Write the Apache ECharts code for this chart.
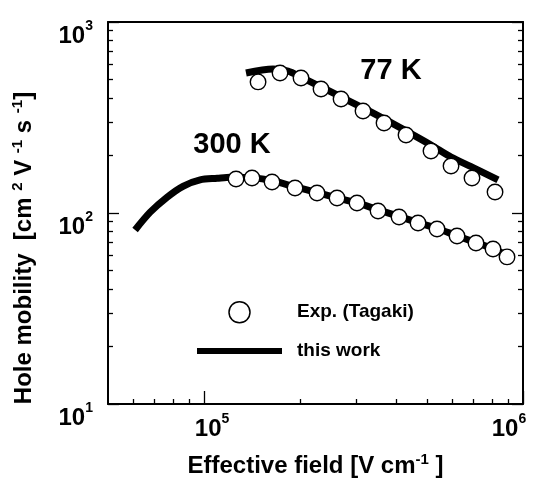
<!DOCTYPE html>
<html><head><meta charset="utf-8">
<script src="https://cdn.jsdelivr.net/npm/echarts@6/dist/echarts.min.js"></script>
<style>html,body{margin:0;padding:0;background:#fff}#c{width:537px;height:480px}</style>
</head><body><div id="c"></div>
<script>
const FONT = '"Liberation Sans", Arial, Helvetica, sans-serif';

// Experimental data (Takagi), 300 K
const exp300X = [1.26e5, 1.414e5, 1.634e5, 1.929e5, 2.261e5, 2.612e5, 3.017e5, 3.512e5, 4.087e5, 4.687e5, 5.376e5, 6.211e5, 7.123e5, 8.054e5, 8.911e5];
const exp300Y = [150.6, 152.4, 145.3, 135.2, 127.3, 119.9, 112.8, 102.4, 95.3, 88.6, 82.4, 75.8, 69.7, 64.8, 58.9];
// This work, 300 K
const fit300X = [6.08e4, 6.78e4, 7.66e4, 8.59e4, 9.72e4, 1.10e5, 1.21e5, 1.41e5, 1.63e5, 1.93e5, 2.26e5, 2.61e5, 3.02e5, 3.51e5, 4.09e5, 4.69e5, 5.38e5, 6.21e5, 7.12e5, 8.05e5, 8.9e5];
const fit300Y = [81.5, 101, 121, 138, 149, 152, 154, 153, 148, 137, 128, 120, 113, 104, 96, 89, 83, 76, 70, 65, 60];
// Experimental data (Takagi), 77 K
const exp77X = [1.477e5, 1.731e5, 2.014e5, 2.327e5, 2.689e5, 3.151e5, 3.667e5, 4.298e5, 5.147e5, 5.948e5, 6.920e5, 8.172e5];
const exp77Y = [485.6, 540.6, 509.2, 445.8, 395.0, 342.2, 296.1, 256.0, 211.2, 176.3, 152.4, 128.9];
// This work, 77 K
const fit77X = [1.354e5, 1.646e5, 1.834e5, 2.014e5, 2.327e5, 2.689e5, 3.151e5, 3.667e5, 4.298e5, 5.147e5, 5.948e5, 6.920e5, 8.35e5];
const fit77Y = [541, 567, 553, 515, 457, 405, 355, 311, 269, 227, 196, 174, 149];

// Axes
const xMin = 5e4, xMax = 1e6, yMin = 10, yMax = 1000;
const xMajorTicks = [1e5, 1e6];
const xMajorExp = ['5', '6'];
const xMinorTicks = [6e4, 7e4, 8e4, 9e4, 2e5, 3e5, 4e5, 5e5, 6e5, 7e5, 8e5, 9e5];
const yMajorTicks = [10, 100, 1000];
const yMajorExp = ['1', '2', '3'];
const yMinorTicks = [20, 30, 40, 50, 60, 70, 80, 90, 200, 300, 400, 500, 600, 700, 800, 900];

// Annotations
const annotText = ['300 K', '77 K'];
const annotX = [1.224e5, 3.855e5];
const annotY = [227, 557];

const pairs = (xs, ys) => xs.map((x, i) => [x, ys[i]]);
const idxOf = (arr, v) => arr.findIndex(t => Math.abs(t - v) / t < 1e-6);

const tickRich = {
  b: {fontFamily: FONT, fontWeight: 'bold', fontSize: 24, lineHeight: 24, padding: [10, 0, 0, 0], color: '#000'},
  s: {fontFamily: FONT, fontWeight: 'bold', fontSize: 14, lineHeight: 14, verticalAlign: 'top', color: '#000'},
  pl: {width: 16, fontSize: 10},
  pr: {width: 28, fontSize: 10}
};
const nameRich = {
  n: {fontFamily: FONT, fontWeight: 'bold', fontSize: 24, lineHeight: 24, padding: [5, 0, 0, 0], color: '#000'},
  u: {fontFamily: FONT, fontWeight: 'bold', fontSize: 15, lineHeight: 15, verticalAlign: 'top', color: '#000'}
};

const axisLine = {show: true, onZero: false, lineStyle: {color: '#000', width: 2}};
const noLine = {show: false, onZero: false};
function logX(extra) {
  return Object.assign({type: 'log', logBase: 10, min: xMin, max: xMax, gridIndex: 0, splitLine: {show: false},
    axisLabel: {show: false}, axisTick: {show: false}, axisLine: noLine, silent: true}, extra);
}
function logY(extra) {
  return Object.assign({type: 'log', logBase: 10, min: yMin, max: yMax, gridIndex: 0, splitLine: {show: false},
    axisLabel: {show: false}, axisTick: {show: false}, axisLine: noLine, silent: true}, extra);
}

const chart = echarts.init(document.getElementById('c'), null, {renderer: 'canvas'});
chart.setOption({
  animation: false,
  backgroundColor: '#fff',
  grid: {left: 108, right: 14, top: 22, bottom: 76, containLabel: false, outerBoundsMode: 'none'},
  xAxis: [
    logX({position: 'bottom', axisLine: axisLine,
      name: '{n|Effective field [V cm}{u|-1}{n| ]}', nameLocation: 'middle', nameGap: 48,
      nameTextStyle: {rich: nameRich},
      axisTick: {show: true, inside: true, length: 13, customValues: xMajorTicks, lineStyle: {color: '#000', width: 1.3}},
      axisLabel: {show: true, margin: 8, customValues: xMajorTicks, rich: tickRich, hideOverlap: false,
        formatter: v => { const i = idxOf(xMajorTicks, v); const e = xMajorExp[i];
          return i === 0 ? '{pl| }{b|10}{s|' + e + '}' : '{b|10}{s|' + e + '}{pr| }'; }}}),
    logX({position: 'bottom', offset: 0,
      axisTick: {show: true, inside: true, length: 5, customValues: xMinorTicks, lineStyle: {color: '#000', width: 1.3}}}),
    logX({position: 'top', offset: 0, axisLine: axisLine})
  ],
  yAxis: [
    logY({position: 'left', offset: 0, axisLine: axisLine,
      name: '{n|Hole mobility  [cm }{u|2}{n| V }{u|-1}{n| s }{u|-1}{n|]}', nameLocation: 'middle', nameGap: 74,
      nameTextStyle: {rich: nameRich, padding: [0, 70, 0, 0]},
      axisTick: {show: true, inside: true, length: 11, customValues: yMajorTicks, lineStyle: {color: '#000', width: 1.3}},
      axisLabel: {show: true, margin: 15, customValues: yMajorTicks, rich: tickRich, padding: [18, 0, 0, 0], hideOverlap: false,
        formatter: v => '{b|10}{s|' + yMajorExp[idxOf(yMajorTicks, v)] + '}'}}),
    logY({position: 'left', offset: 0,
      axisTick: {show: true, inside: true, length: 5, customValues: yMinorTicks, lineStyle: {color: '#000', width: 1.3}}}),
    logY({position: 'right', offset: 0, axisLine: axisLine,
      axisTick: {show: true, inside: true, length: 11, customValues: yMajorTicks, lineStyle: {color: '#000', width: 1.3}}}),
    logY({position: 'right', offset: 0,
      axisTick: {show: true, inside: true, length: 5, customValues: yMinorTicks, lineStyle: {color: '#000', width: 1.3}}})
  ],
  legend: {
    left: 197, top: 301, padding: 0, orient: 'vertical', itemWidth: 85, itemHeight: 21, itemGap: 18,
    selectedMode: false,
    textStyle: {fontFamily: FONT, fontWeight: 'bold', fontSize: 19, color: '#000', padding: [0, 0, 0, 10]},
    data: [
      {name: 'Exp. (Tagaki)', icon: 'circle', itemStyle: {color: '#fff', borderColor: '#000', borderWidth: 1.5}},
      {name: 'this work', icon: 'path://M0 0H85V6H0Z', itemStyle: {color: '#000', borderWidth: 0}}
    ]
  },
  series: [
    {type: 'line', name: 'this work', xAxisIndex: 0, yAxisIndex: 0, data: pairs(fit300X, fit300Y), smooth: 0.3,
      symbol: 'none', lineStyle: {color: '#000', width: 7}, itemStyle: {color: '#000'}, z: 2, silent: true},
    {type: 'line', name: 'this work', xAxisIndex: 0, yAxisIndex: 0, data: pairs(fit77X, fit77Y), smooth: 0.3,
      symbol: 'none', lineStyle: {color: '#000', width: 7}, itemStyle: {color: '#000'}, z: 2, silent: true},
    {type: 'scatter', name: 'Exp. (Tagaki)', xAxisIndex: 0, yAxisIndex: 0, data: pairs(exp300X, exp300Y),
      symbol: 'circle', symbolSize: 15.5, itemStyle: {color: '#fff', borderColor: '#000', borderWidth: 1.4, opacity: 1}, z: 3, silent: true},
    {type: 'scatter', name: 'Exp. (Tagaki)', xAxisIndex: 0, yAxisIndex: 0, data: pairs(exp77X, exp77Y),
      symbol: 'circle', symbolSize: 15.5, itemStyle: {color: '#fff', borderColor: '#000', borderWidth: 1.4, opacity: 1}, z: 3, silent: true},
    {type: 'scatter', name: 'annotations', xAxisIndex: 0, yAxisIndex: 0, symbolSize: 0, silent: true, z: 4,
      itemStyle: {color: '#000'},
      data: annotText.map((t, i) => ({value: [annotX[i], annotY[i]], name: t})),
      label: {show: true, position: 'inside', formatter: p => p.name, fontFamily: FONT, fontWeight: 'bold', fontSize: 29,
        color: '#000', textBorderWidth: 0, textBorderColor: 'transparent', opacity: 1}}
  ]
});
</script>
</body></html>
